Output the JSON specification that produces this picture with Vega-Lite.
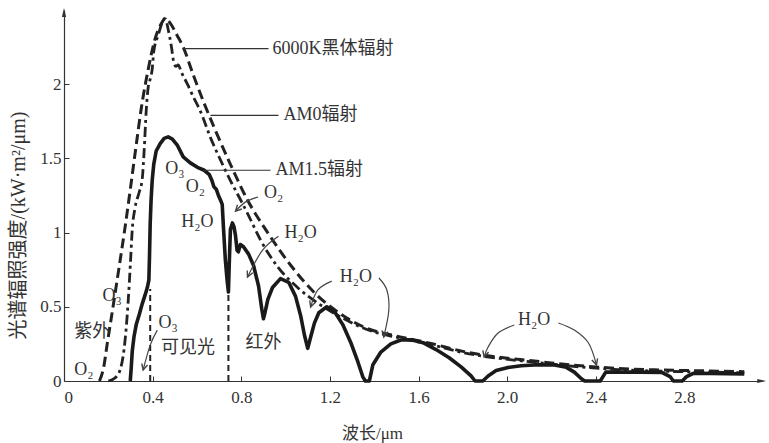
{
  "$schema": "https://vega.github.io/schema/vega-lite/v6.json",
  "width": 698,
  "height": 371,
  "autosize": {"type": "none"},
  "padding": {"left": 64, "top": 10, "right": 7, "bottom": 62},
  "background": "white",
  "config": {"view": {"stroke": null}},
  "datasets": {
    "bb": [
      {"x":0.16,"y":0},{"x":0.18,"y":0.1},{"x":0.195,"y":0.25},{"x":0.215,"y":0.44},{"x":0.25,"y":0.78},{"x":0.275,"y":1.03},{"x":0.30,"y":1.3},{"x":0.325,"y":1.58},{"x":0.35,"y":1.85},{"x":0.38,"y":2.1},{"x":0.41,"y":2.3},{"x":0.44,"y":2.41},{"x":0.457,"y":2.445},{"x":0.48,"y":2.41},{"x":0.51,"y":2.33},{"x":0.538,"y":2.25},{"x":0.584,"y":2.06},{"x":0.63,"y":1.88},{"x":0.68,"y":1.7},{"x":0.751,"y":1.46},{"x":0.828,"y":1.22},{"x":0.919,"y":1.0},{"x":1.023,"y":0.78},{"x":1.127,"y":0.6},{"x":1.25,"y":0.45},{"x":1.37,"y":0.353},{"x":1.5,"y":0.303},{"x":1.656,"y":0.253},{"x":1.805,"y":0.198},{"x":1.87,"y":0.18},{"x":1.95,"y":0.163},{"x":2.1,"y":0.138},{"x":2.2,"y":0.122},{"x":2.37,"y":0.098},{"x":2.5,"y":0.085},{"x":2.7,"y":0.074},{"x":2.9,"y":0.068},{"x":3.07,"y":0.063}
    ],
    "am0": [
      {"x":0.2,"y":0},{"x":0.23,"y":0.02},{"x":0.253,"y":0.074},{"x":0.266,"y":0.16},{"x":0.276,"y":0.28},{"x":0.29,"y":0.545},{"x":0.3,"y":0.8},{"x":0.308,"y":1.02},{"x":0.321,"y":1.17},{"x":0.339,"y":1.27},{"x":0.353,"y":1.36},{"x":0.362,"y":1.56},{"x":0.371,"y":1.82},{"x":0.38,"y":1.98},{"x":0.39,"y":2.04},{"x":0.398,"y":2.1},{"x":0.405,"y":2.22},{"x":0.425,"y":2.33},{"x":0.445,"y":2.42},{"x":0.458,"y":2.44},{"x":0.47,"y":2.37},{"x":0.485,"y":2.25},{"x":0.495,"y":2.15},{"x":0.505,"y":2.12},{"x":0.515,"y":2.13},{"x":0.53,"y":2.08},{"x":0.557,"y":2.0},{"x":0.585,"y":1.91},{"x":0.615,"y":1.82},{"x":0.661,"y":1.64},{"x":0.706,"y":1.49},{"x":0.751,"y":1.35},{"x":0.783,"y":1.26},{"x":0.828,"y":1.13},{"x":0.887,"y":0.95},{"x":0.964,"y":0.77},{"x":1.054,"y":0.63},{"x":1.15,"y":0.52},{"x":1.25,"y":0.43},{"x":1.37,"y":0.345},{"x":1.5,"y":0.295},{"x":1.656,"y":0.245},{"x":1.805,"y":0.19},{"x":1.87,"y":0.172},{"x":1.95,"y":0.155},{"x":2.1,"y":0.13},{"x":2.2,"y":0.114},{"x":2.37,"y":0.09},{"x":2.5,"y":0.077},{"x":2.7,"y":0.066},{"x":2.9,"y":0.06},{"x":3.07,"y":0.055}
    ],
    "am15": [
      {"x":0.299,"y":0},{"x":0.303,"y":0.08},{"x":0.308,"y":0.2},{"x":0.316,"y":0.3},{"x":0.326,"y":0.38},{"x":0.34,"y":0.45},{"x":0.353,"y":0.52},{"x":0.366,"y":0.58},{"x":0.376,"y":0.63},{"x":0.383,"y":0.68},{"x":0.386,"y":0.85},{"x":0.389,"y":1.06},{"x":0.393,"y":1.22},{"x":0.398,"y":1.35},{"x":0.405,"y":1.46},{"x":0.416,"y":1.55},{"x":0.434,"y":1.6},{"x":0.452,"y":1.635},{"x":0.47,"y":1.645},{"x":0.489,"y":1.63},{"x":0.511,"y":1.59},{"x":0.538,"y":1.51},{"x":0.57,"y":1.47},{"x":0.602,"y":1.44},{"x":0.633,"y":1.42},{"x":0.656,"y":1.39},{"x":0.668,"y":1.35},{"x":0.676,"y":1.31},{"x":0.688,"y":1.29},{"x":0.697,"y":1.25},{"x":0.706,"y":1.22},{"x":0.714,"y":1.19},{"x":0.719,"y":1.05},{"x":0.728,"y":0.82},{"x":0.736,"y":0.68},{"x":0.742,"y":0.6},{"x":0.746,"y":0.8},{"x":0.751,"y":1.02},{"x":0.76,"y":1.065},{"x":0.767,"y":1.04},{"x":0.774,"y":0.98},{"x":0.781,"y":0.88},{"x":0.787,"y":0.87},{"x":0.796,"y":0.92},{"x":0.81,"y":0.905},{"x":0.833,"y":0.855},{"x":0.855,"y":0.78},{"x":0.878,"y":0.64},{"x":0.893,"y":0.48},{"x":0.9,"y":0.42},{"x":0.907,"y":0.46},{"x":0.92,"y":0.55},{"x":0.941,"y":0.63},{"x":0.977,"y":0.69},{"x":1.014,"y":0.665},{"x":1.045,"y":0.57},{"x":1.068,"y":0.44},{"x":1.085,"y":0.31},{"x":1.1,"y":0.22},{"x":1.112,"y":0.29},{"x":1.13,"y":0.39},{"x":1.15,"y":0.46},{"x":1.186,"y":0.5},{"x":1.222,"y":0.465},{"x":1.258,"y":0.38},{"x":1.294,"y":0.26},{"x":1.326,"y":0.13},{"x":1.348,"y":0.03},{"x":1.36,"y":0},{"x":1.378,"y":0},{"x":1.394,"y":0.11},{"x":1.43,"y":0.195},{"x":1.475,"y":0.25},{"x":1.52,"y":0.276},{"x":1.566,"y":0.278},{"x":1.62,"y":0.258},{"x":1.679,"y":0.212},{"x":1.738,"y":0.157},{"x":1.792,"y":0.095},{"x":1.837,"y":0.035},{"x":1.855,"y":0},{"x":1.89,"y":0},{"x":1.914,"y":0.034},{"x":1.95,"y":0.07},{"x":2.0,"y":0.09},{"x":2.063,"y":0.103},{"x":2.14,"y":0.11},{"x":2.213,"y":0.108},{"x":2.267,"y":0.092},{"x":2.303,"y":0.06},{"x":2.335,"y":0.015},{"x":2.35,"y":0},{"x":2.42,"y":0},{"x":2.445,"y":0.06},{"x":2.6,"y":0.06},{"x":2.7,"y":0.057},{"x":2.735,"y":0.03},{"x":2.75,"y":0},{"x":2.79,"y":0},{"x":2.81,"y":0.03},{"x":2.84,"y":0.052},{"x":3.07,"y":0.048}
    ],
    "bounds": [
      {"x":0.389,"y":0,"y2":0.62},
      {"x":0.742,"y":0,"y2":0.6}
    ],
    "leaders": [
      {"id":"bb","x":0.538,"y":2.24},{"id":"bb","x":0.923,"y":2.24},
      {"id":"am0","x":0.661,"y":1.79},{"id":"am0","x":0.968,"y":1.79},
      {"id":"am15","x":0.629,"y":1.42},{"id":"am15","x":0.932,"y":1.42}
    ],
    "arrows": [
      {"id":"a1","k":0,"x":0.876,"y":1.24},{"id":"a1","k":1,"x":0.82,"y":1.207},{"id":"a1","k":2,"x":0.774,"y":1.145},
      {"id":"a2","k":0,"x":0.968,"y":0.976},{"id":"a2","k":1,"x":0.896,"y":0.882},{"id":"a2","k":2,"x":0.828,"y":0.7},
      {"id":"a3","k":0,"x":1.208,"y":0.673},{"id":"a3","k":1,"x":1.145,"y":0.613},{"id":"a3","k":2,"x":1.113,"y":0.498},
      {"id":"a4","k":0,"x":1.421,"y":0.694},{"id":"a4","k":1,"x":1.457,"y":0.613},{"id":"a4","k":2,"x":1.466,"y":0.478},{"id":"a4","k":3,"x":1.443,"y":0.296},
      {"id":"a5","k":0,"x":2.032,"y":0.377},{"id":"a5","k":1,"x":1.959,"y":0.323},{"id":"a5","k":2,"x":1.914,"y":0.229},{"id":"a5","k":3,"x":1.896,"y":0.162},
      {"id":"a6","k":0,"x":2.231,"y":0.391},{"id":"a6","k":1,"x":2.303,"y":0.343},{"id":"a6","k":2,"x":2.367,"y":0.256},{"id":"a6","k":3,"x":2.403,"y":0.108},
      {"id":"a7","k":0,"x":0.421,"y":0.343},{"id":"a7","k":1,"x":0.389,"y":0.242},{"id":"a7","k":2,"x":0.357,"y":0.074}
    ],
    "heads": [
      {"id":"h1","k":0,"x":0.803,"y":1.159},{"id":"h1","k":1,"x":0.774,"y":1.145},{"id":"h1","k":2,"x":0.783,"y":1.188},
      {"id":"h2","k":0,"x":0.852,"y":0.729},{"id":"h2","k":1,"x":0.828,"y":0.7},{"id":"h2","k":2,"x":0.827,"y":0.745},
      {"id":"h3","k":0,"x":1.135,"y":0.53},{"id":"h3","k":1,"x":1.113,"y":0.498},{"id":"h3","k":2,"x":1.109,"y":0.543},
      {"id":"h4","k":0,"x":1.462,"y":0.332},{"id":"h4","k":1,"x":1.443,"y":0.296},{"id":"h4","k":2,"x":1.435,"y":0.34},
      {"id":"h5","k":0,"x":1.916,"y":0.195},{"id":"h5","k":1,"x":1.896,"y":0.162},{"id":"h5","k":2,"x":1.89,"y":0.206},
      {"id":"h6","k":0,"x":2.408,"y":0.152},{"id":"h6","k":1,"x":2.403,"y":0.108},{"id":"h6","k":2,"x":2.382,"y":0.141},
      {"id":"h7","k":0,"x":0.377,"y":0.108},{"id":"h7","k":1,"x":0.357,"y":0.074},{"id":"h7","k":2,"x":0.351,"y":0.118}
    ],
    "tags": [
      {"t":"6000K黑体辐射","x":0.941,"y":2.24},
      {"t":"AM0辐射","x":0.991,"y":1.79},
      {"t":"AM1.5辐射","x":0.955,"y":1.42}
    ],
    "notes": [
      {"t":"O₃","x":0.5,"y":1.43},
      {"t":"O₂","x":0.593,"y":1.31},
      {"t":"H₂O","x":0.602,"y":1.07},
      {"t":"O₂","x":0.946,"y":1.265},
      {"t":"H₂O","x":1.068,"y":1.0},
      {"t":"H₂O","x":1.317,"y":0.7},
      {"t":"H₂O","x":2.122,"y":0.41},
      {"t":"O₃","x":0.217,"y":0.57},
      {"t":"紫外","x":0.127,"y":0.33},
      {"t":"O₂","x":0.09,"y":0.074},
      {"t":"O₃","x":0.47,"y":0.39},
      {"t":"可见光","x":0.56,"y":0.22},
      {"t":"红外","x":0.9,"y":0.256}
    ]
  },
  "encoding": {
    "x": {
      "field": "x", "type": "quantitative",
      "scale": {"domain": [0, 3.15], "nice": false, "zero": false},
      "axis": {
        "values": [0, 0.4, 0.8, 1.2, 1.6, 2.0, 2.4, 2.8],
        "labelExpr": "datum.value == 0 ? '0' : format(datum.value, '.1f')",
        "grid": false, "tickSize": -5, "labelPadding": 13,
        "domainColor": "#333", "tickColor": "#333", "domainWidth": 1.2,
        "labelFont": "Liberation Serif", "labelFontSize": 17, "labelColor": "#333",
        "title": "波长/μm", "titleFont": "Liberation Serif, Noto Sans CJK SC", "titleFontSize": 17,
        "titleFontWeight": "normal", "titleColor": "#333",
        "titleX": 308, "titleY": 52, "titleAlign": "center", "titleBaseline": "middle"
      }
    },
    "y": {
      "field": "y", "type": "quantitative",
      "scale": {"domain": [0, 2.5], "nice": false},
      "axis": {
        "values": [0, 0.5, 1, 1.5, 2],
        "labelExpr": "'' + datum.value",
        "grid": false, "tickSize": -5, "labelPadding": 8,
        "domainColor": "#333", "tickColor": "#333", "domainWidth": 1.2,
        "labelFont": "Liberation Serif", "labelFontSize": 17, "labelColor": "#333",
        "title": "光谱辐照强度/(kW·m²/μm)", "titleFont": "Liberation Serif, Noto Sans CJK SC", "titleFontSize": 20,
        "titleFontWeight": "normal", "titleColor": "#333",
        "titleAngle": 270, "titleX": -46, "titleY": 215, "titleAlign": "center", "titleBaseline": "middle"
      }
    }
  },
  "layer": [
    {"data": {"name": "bounds"}, "mark": {"type": "rule", "strokeDash": [6, 4], "strokeWidth": 2, "color": "#222"}, "encoding": {"y2": {"field": "y2"}}},
    {"data": {"name": "bb"}, "mark": {"type": "line", "strokeDash": [10, 5], "strokeWidth": 3, "color": "#222", "interpolate": "monotone"}},
    {"data": {"name": "am0"}, "mark": {"type": "line", "strokeDash": [10, 4, 3, 4], "strokeWidth": 2.8, "color": "#222", "interpolate": "monotone"}},
    {"data": {"name": "am15"}, "mark": {"type": "line", "strokeWidth": 3.6, "color": "#1a1a1a", "strokeJoin": "round"}},
    {"data": {"name": "leaders"}, "mark": {"type": "line", "strokeWidth": 1.2, "color": "#333"}, "encoding": {"detail": {"field": "id"}}},
    {"data": {"name": "arrows"}, "mark": {"type": "line", "strokeWidth": 1.2, "color": "#444", "interpolate": "cardinal"}, "encoding": {"detail": {"field": "id"}, "order": {"field": "k"}}},
    {"data": {"name": "heads"}, "mark": {"type": "line", "strokeWidth": 1.4, "color": "#444"}, "encoding": {"detail": {"field": "id"}, "order": {"field": "k"}}},
    {"data": {"name": "tags"}, "mark": {"type": "text", "align": "left", "baseline": "middle", "font": "Liberation Serif, Noto Sans CJK SC", "fontSize": 18, "color": "#333"}, "encoding": {"text": {"field": "t"}}},
    {"data": {"name": "notes"}, "mark": {"type": "text", "align": "center", "baseline": "middle", "font": "Liberation Serif, Noto Sans CJK SC", "fontSize": 18, "color": "#333"}, "encoding": {"text": {"field": "t"}}},
    {"data": {"values": [{"x": 0, "y": 2.478}]}, "mark": {"type": "point", "shape": "M0,-1L0.4,0.7L-0.4,0.7Z", "filled": true, "size": 110, "color": "#333", "opacity": 1}},
    {"data": {"values": [{"x": 3.145, "y": 0}]}, "mark": {"type": "point", "shape": "M1,0L-0.7,0.4L-0.7,-0.4Z", "filled": true, "size": 110, "color": "#333", "opacity": 1}}
  ]
}
